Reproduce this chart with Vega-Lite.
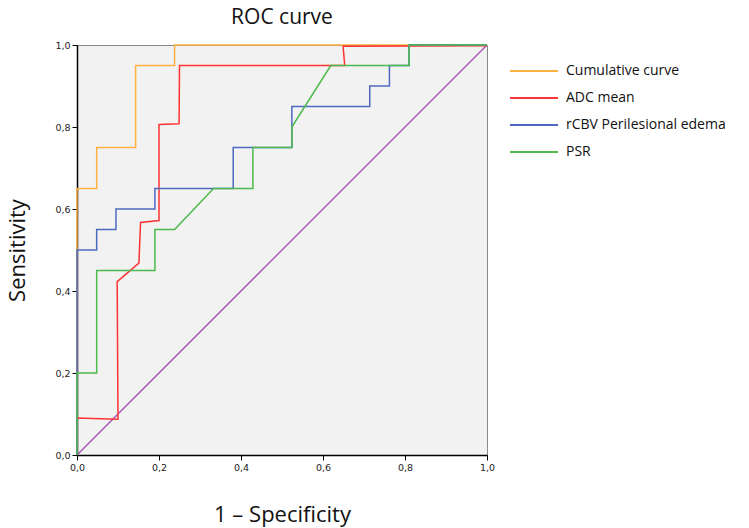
{
  "$schema": "https://vega.github.io/schema/vega-lite/v6.json",
  "width": 410,
  "height": 410,
  "autosize": {"type": "none"},
  "padding": {"left": 77, "top": 45, "right": 262, "bottom": 73},
  "background": "white",
  "title": {"text": "ROC curve", "font": "Open Sans", "fontSize": 21, "fontWeight": "normal", "color": "#111", "anchor": "middle", "offset": 12},
  "config": {
    "view": {"fill": "#f2f2f2", "stroke": "#888888", "strokeWidth": 1},
    "axis": {"grid": false, "labelFlush": false, "labelOverlap": false, "domainColor": "#000", "domainWidth": 1.5, "tickColor": "#000", "tickSize": 5, "labelFont": "DejaVu Sans", "labelFontSize": 9.5, "labelColor": "#222", "titleFont": "Open Sans", "titleFontSize": 22, "titleFontWeight": "normal", "titleColor": "#111"}
  },
  "datasets": {
    "curves": [
      {"s": "Cumulative curve", "i": 0, "x": 0, "y": 0},
      {"s": "Cumulative curve", "i": 1, "x": 0, "y": 0.65},
      {"s": "Cumulative curve", "i": 2, "x": 0.048, "y": 0.65},
      {"s": "Cumulative curve", "i": 3, "x": 0.048, "y": 0.75},
      {"s": "Cumulative curve", "i": 4, "x": 0.143, "y": 0.75},
      {"s": "Cumulative curve", "i": 5, "x": 0.143, "y": 0.95},
      {"s": "Cumulative curve", "i": 6, "x": 0.238, "y": 0.95},
      {"s": "Cumulative curve", "i": 7, "x": 0.238, "y": 1},
      {"s": "Cumulative curve", "i": 8, "x": 1, "y": 1},
      {"s": "ADC mean", "i": 0, "x": 0, "y": 0},
      {"s": "ADC mean", "i": 1, "x": 0, "y": 0.09},
      {"s": "ADC mean", "i": 2, "x": 0.1, "y": 0.087},
      {"s": "ADC mean", "i": 3, "x": 0.098, "y": 0.423},
      {"s": "ADC mean", "i": 4, "x": 0.151, "y": 0.468},
      {"s": "ADC mean", "i": 5, "x": 0.155, "y": 0.567},
      {"s": "ADC mean", "i": 6, "x": 0.2, "y": 0.572},
      {"s": "ADC mean", "i": 7, "x": 0.2, "y": 0.806},
      {"s": "ADC mean", "i": 8, "x": 0.249, "y": 0.808},
      {"s": "ADC mean", "i": 9, "x": 0.25, "y": 0.95},
      {"s": "ADC mean", "i": 10, "x": 0.653, "y": 0.95},
      {"s": "ADC mean", "i": 11, "x": 0.649, "y": 0.997},
      {"s": "ADC mean", "i": 12, "x": 1, "y": 0.998},
      {"s": "rCBV Perilesional edema", "i": 0, "x": 0, "y": 0},
      {"s": "rCBV Perilesional edema", "i": 1, "x": 0, "y": 0.5},
      {"s": "rCBV Perilesional edema", "i": 2, "x": 0.048, "y": 0.5},
      {"s": "rCBV Perilesional edema", "i": 3, "x": 0.048, "y": 0.55},
      {"s": "rCBV Perilesional edema", "i": 4, "x": 0.095, "y": 0.55},
      {"s": "rCBV Perilesional edema", "i": 5, "x": 0.095, "y": 0.6},
      {"s": "rCBV Perilesional edema", "i": 6, "x": 0.19, "y": 0.6},
      {"s": "rCBV Perilesional edema", "i": 7, "x": 0.19, "y": 0.65},
      {"s": "rCBV Perilesional edema", "i": 8, "x": 0.381, "y": 0.65},
      {"s": "rCBV Perilesional edema", "i": 9, "x": 0.381, "y": 0.75},
      {"s": "rCBV Perilesional edema", "i": 10, "x": 0.524, "y": 0.75},
      {"s": "rCBV Perilesional edema", "i": 11, "x": 0.524, "y": 0.85},
      {"s": "rCBV Perilesional edema", "i": 12, "x": 0.714, "y": 0.85},
      {"s": "rCBV Perilesional edema", "i": 13, "x": 0.714, "y": 0.9},
      {"s": "rCBV Perilesional edema", "i": 14, "x": 0.762, "y": 0.9},
      {"s": "rCBV Perilesional edema", "i": 15, "x": 0.762, "y": 0.95},
      {"s": "rCBV Perilesional edema", "i": 16, "x": 0.81, "y": 0.95},
      {"s": "rCBV Perilesional edema", "i": 17, "x": 0.81, "y": 1},
      {"s": "rCBV Perilesional edema", "i": 18, "x": 1, "y": 1},
      {"s": "PSR", "i": 0, "x": 0, "y": 0},
      {"s": "PSR", "i": 1, "x": 0, "y": 0.2},
      {"s": "PSR", "i": 2, "x": 0.048, "y": 0.2},
      {"s": "PSR", "i": 3, "x": 0.048, "y": 0.45},
      {"s": "PSR", "i": 4, "x": 0.19, "y": 0.45},
      {"s": "PSR", "i": 5, "x": 0.19, "y": 0.55},
      {"s": "PSR", "i": 6, "x": 0.238, "y": 0.55},
      {"s": "PSR", "i": 7, "x": 0.333, "y": 0.65},
      {"s": "PSR", "i": 8, "x": 0.429, "y": 0.65},
      {"s": "PSR", "i": 9, "x": 0.429, "y": 0.75},
      {"s": "PSR", "i": 10, "x": 0.524, "y": 0.75},
      {"s": "PSR", "i": 11, "x": 0.524, "y": 0.8},
      {"s": "PSR", "i": 12, "x": 0.619, "y": 0.95},
      {"s": "PSR", "i": 13, "x": 0.81, "y": 0.95},
      {"s": "PSR", "i": 14, "x": 0.81, "y": 1},
      {"s": "PSR", "i": 15, "x": 1, "y": 1}
    ],
    "diag": [
      {"i": 0, "x": 0, "y": 0},
      {"i": 1, "x": 1, "y": 1}
    ]
  },
  "layer": [
    {
      "data": {"name": "diag"},
      "mark": {"type": "line", "color": "#9f4fae", "strokeWidth": 1.3},
      "encoding": {
        "x": {"field": "x", "type": "quantitative", "scale": {"domain": [0, 1], "nice": false}, "axis": {"values": [0, 0.2, 0.4, 0.6, 0.8, 1], "labelExpr": "replace(format(datum.value, '.1f'), '.', ',')", "title": "1 \u2013 Specificity", "titlePadding": 33}},
        "y": {"field": "y", "type": "quantitative", "scale": {"domain": [0, 1], "nice": false}, "axis": {"values": [0, 0.2, 0.4, 0.6, 0.8, 1], "labelExpr": "replace(format(datum.value, '.1f'), '.', ',')", "title": "Sensitivity", "titlePadding": 25}},
        "order": {"field": "i"}
      }
    },
    {
      "data": {"name": "curves"},
      "mark": {"type": "line", "strokeWidth": 1.5},
      "encoding": {
        "x": {"field": "x", "type": "quantitative"},
        "y": {"field": "y", "type": "quantitative"},
        "order": {"field": "i"},
        "color": {
          "field": "s", "type": "nominal",
          "scale": {"domain": ["Cumulative curve", "ADC mean", "rCBV Perilesional edema", "PSR"], "range": ["#ffb040", "#ff3333", "#4f69c2", "#4cba4c"]},
          "legend": {"title": null, "orient": "none", "legendX": 446, "legendY": 15, "symbolType": "M-2.4,0H2.4", "symbolSize": 400, "symbolStrokeWidth": 2, "labelFont": "Open Sans", "labelFontSize": 14, "labelColor": "#111", "labelOffset": 21, "rowPadding": 9}
        }
      }
    }
  ]
}
